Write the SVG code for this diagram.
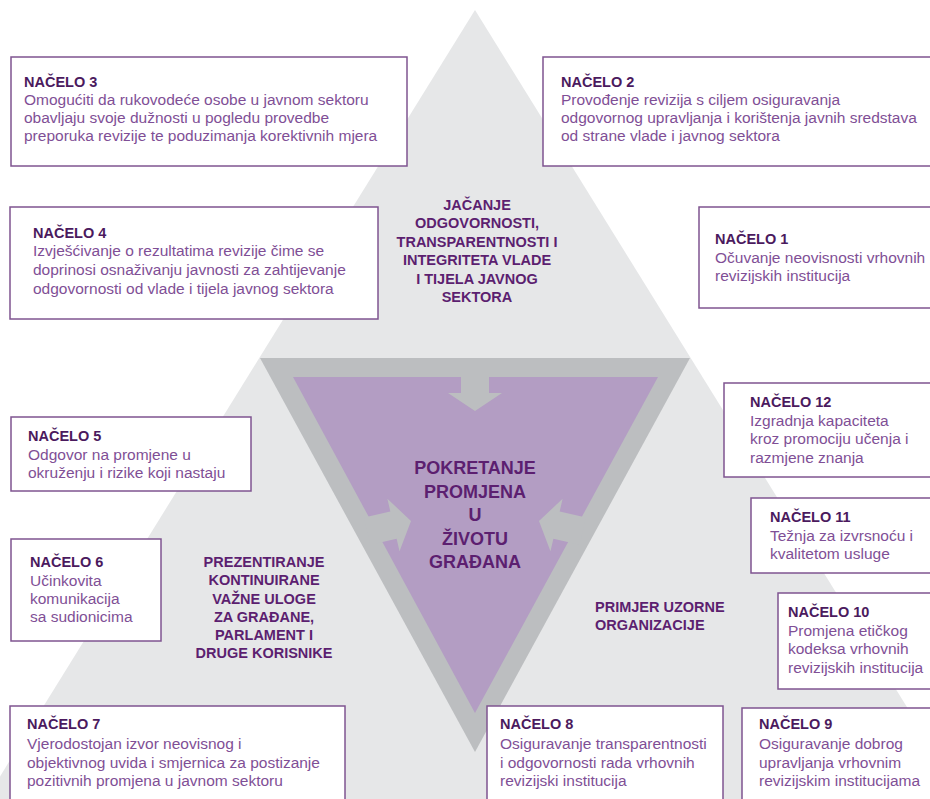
<svg xmlns="http://www.w3.org/2000/svg" width="930" height="799" viewBox="0 0 930 799">
<defs>
<style>
.bg{fill:#ffffff}
.tri{fill:#e6e7e8}
.band{fill:#bcbec0}
.core{fill:#b39dc3}
.box{fill:#ffffff;stroke:#7f5490;stroke-width:1.5}
.ttl{font-family:"Liberation Sans",Arial,sans-serif;font-weight:bold;font-size:14.5px;fill:#4b1a5e}
.txt{font-family:"Liberation Sans",Arial,sans-serif;font-size:15.5px;fill:#7f4f96}
.lbl{font-family:"Liberation Sans",Arial,sans-serif;font-weight:bold;font-size:14.5px;fill:#5c1f70;text-anchor:middle}
.big{font-family:"Liberation Sans",Arial,sans-serif;font-weight:bold;font-size:18px;fill:#5c1f70;text-anchor:middle}
.arr{fill:#bcbec0}
</style>
<path id="arrowShape" d="M0,0 L-27,-18 L-14,-18 L-14,-45 L14,-45 L14,-18 L27,-18 Z"/>
</defs>
<rect class="bg" x="0" y="0" width="930" height="799"/>
<g id="pyramid">
<polygon class="tri" points="475,10 964,799 -14,799"/>
<polygon class="band" points="260,358 690,358 475,752"/>
<polygon class="core" points="293,377 658,377 475,713"/>
</g>
<g id="connectors">
<use href="#arrowShape" class="arr" transform="translate(475,411)"/>
<use href="#arrowShape" class="arr" transform="translate(411,521) rotate(-103)"/>
<use href="#arrowShape" class="arr" transform="translate(539,521) rotate(103)"/>
</g>
<g id="label-top">
<text class="lbl" x="477" y="210">JAČANJE</text>
<text class="lbl" x="477" y="228">ODGOVORNOSTI,</text>
<text class="lbl" x="477" y="247">TRANSPARENTNOSTI I</text>
<text class="lbl" x="477" y="265">INTEGRITETA VLADE</text>
<text class="lbl" x="477" y="284">I TIJELA JAVNOG</text>
<text class="lbl" x="477" y="302">SEKTORA</text>
</g>
<g id="label-center">
<text class="big" x="475" y="474">POKRETANJE</text>
<text class="big" x="475" y="498">PROMJENA</text>
<text class="big" x="475" y="521">U</text>
<text class="big" x="475" y="545">ŽIVOTU</text>
<text class="big" x="475" y="568">GRAĐANA</text>
</g>
<g id="label-left">
<text class="lbl" x="264" y="567">PREZENTIRANJE</text>
<text class="lbl" x="264" y="585">KONTINUIRANE</text>
<text class="lbl" x="264" y="604">VAŽNE ULOGE</text>
<text class="lbl" x="264" y="622">ZA GRAĐANE,</text>
<text class="lbl" x="264" y="640">PARLAMENT I</text>
<text class="lbl" x="264" y="658">DRUGE KORISNIKE</text>
</g>
<g id="label-right">
<text class="lbl" x="595" y="612" style="text-anchor:start">PRIMJER UZORNE</text>
<text class="lbl" x="595" y="630" style="text-anchor:start">ORGANIZACIJE</text>
</g>
<g id="nacelo3">
<rect class="box" x="11" y="57" width="396" height="109"/>
<text class="ttl" x="24" y="87">NAČELO 3</text>
<text class="txt" x="24" y="105">Omogućiti da rukovodeće osobe u javnom sektoru</text>
<text class="txt" x="24" y="123">obavljaju svoje dužnosti u pogledu provedbe</text>
<text class="txt" x="24" y="141">preporuka revizije te poduzimanja korektivnih mjera</text>
</g>
<g id="nacelo2">
<rect class="box" x="543" y="57" width="400" height="109"/>
<text class="ttl" x="561" y="87">NAČELO 2</text>
<text class="txt" x="561" y="105">Provođenje revizija s ciljem osiguravanja</text>
<text class="txt" x="561" y="123">odgovornog upravljanja i korištenja javnih sredstava</text>
<text class="txt" x="561" y="141">od strane vlade i javnog sektora</text>
</g>
<g id="nacelo4">
<rect class="box" x="10" y="207" width="368" height="112"/>
<text class="ttl" x="33" y="238">NAČELO 4</text>
<text class="txt" x="33" y="256">Izvješćivanje o rezultatima revizije čime se</text>
<text class="txt" x="33" y="275">doprinosi osnaživanju javnosti za zahtijevanje</text>
<text class="txt" x="33" y="294">odgovornosti od vlade i tijela javnog sektora</text>
</g>
<g id="nacelo1">
<rect class="box" x="699" y="207" width="250" height="101"/>
<text class="ttl" x="715" y="244">NAČELO 1</text>
<text class="txt" x="715" y="263">Očuvanje neovisnosti vrhovnih</text>
<text class="txt" x="715" y="281">revizijskih institucija</text>
</g>
<g id="nacelo5">
<rect class="box" x="11" y="417" width="240" height="74"/>
<text class="ttl" x="28" y="441">NAČELO 5</text>
<text class="txt" x="28" y="460">Odgovor na promjene u</text>
<text class="txt" x="28" y="478">okruženju i rizike koji nastaju</text>
</g>
<g id="nacelo6">
<rect class="box" x="11" y="539" width="150" height="102"/>
<text class="ttl" x="30" y="567">NAČELO 6</text>
<text class="txt" x="30" y="586">Učinkovita</text>
<text class="txt" x="30" y="604">komunikacija</text>
<text class="txt" x="30" y="622">sa sudionicima</text>
</g>
<g id="nacelo12">
<rect class="box" x="724" y="383" width="225" height="94"/>
<text class="ttl" x="750" y="407">NAČELO 12</text>
<text class="txt" x="750" y="426">Izgradnja kapaciteta</text>
<text class="txt" x="750" y="444">kroz promociju učenja i</text>
<text class="txt" x="750" y="463">razmjene znanja</text>
</g>
<g id="nacelo11">
<rect class="box" x="751" y="498" width="200" height="75"/>
<text class="ttl" x="770" y="522">NAČELO 11</text>
<text class="txt" x="770" y="541">Težnja za izvrsnoću i</text>
<text class="txt" x="770" y="559">kvalitetom usluge</text>
</g>
<g id="nacelo10">
<rect class="box" x="778" y="593" width="170" height="96"/>
<text class="ttl" x="788" y="617">NAČELO 10</text>
<text class="txt" x="788" y="636">Promjena etičkog</text>
<text class="txt" x="788" y="654">kodeksa vrhovnih</text>
<text class="txt" x="788" y="673">revizijskih institucija</text>
</g>
<g id="nacelo7">
<rect class="box" x="10" y="706" width="335" height="110"/>
<text class="ttl" x="27" y="729">NAČELO 7</text>
<text class="txt" x="27" y="749">Vjerodostojan izvor neovisnog i</text>
<text class="txt" x="27" y="768">objektivnog uvida i smjernica za postizanje</text>
<text class="txt" x="27" y="786">pozitivnih promjena u javnom sektoru</text>
</g>
<g id="nacelo8">
<rect class="box" x="487" y="706" width="236" height="110"/>
<text class="ttl" x="500" y="729">NAČELO 8</text>
<text class="txt" x="500" y="749">Osiguravanje transparentnosti</text>
<text class="txt" x="500" y="768">i odgovornosti rada vrhovnih</text>
<text class="txt" x="500" y="786">revizijski institucija</text>
</g>
<g id="nacelo9">
<rect class="box" x="742" y="708" width="210" height="110"/>
<text class="ttl" x="759" y="729">NAČELO 9</text>
<text class="txt" x="759" y="749">Osiguravanje dobrog</text>
<text class="txt" x="759" y="768">upravljanja vrhovnim</text>
<text class="txt" x="759" y="786">revizijskim institucijama</text>
</g>
</svg>
